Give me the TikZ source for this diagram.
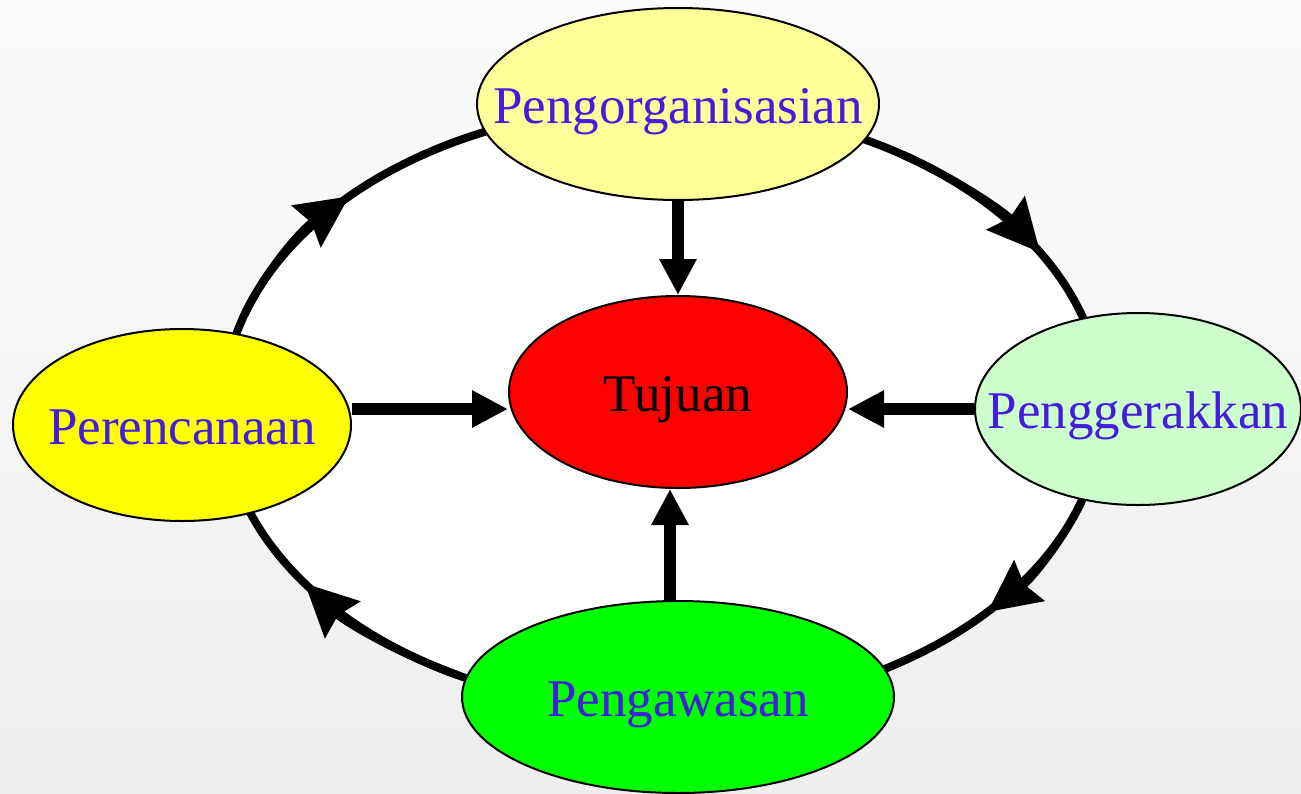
\documentclass[tikz,border=0pt]{standalone}
\usepackage{fontspec}
\setmainfont{Liberation Serif}
\usetikzlibrary{shapes.geometric,arrows.meta}
\definecolor{txtblue}{RGB}{67,28,222}
\definecolor{paleyellow}{RGB}{255,255,153}
\definecolor{palegreen}{RGB}{204,255,204}
\definecolor{brightgreen}{RGB}{0,255,0}
\definecolor{pureyellow}{RGB}{255,255,0}
\newcommand\ctext[1]{\makebox[0pt]{\raisebox{-0.36em}[0pt][0pt]{#1}}}
\tikzset{
  stage/.style={ellipse, draw=black, line width=1pt, inner sep=0pt,
    minimum height=96pt, font=\fontsize{26.5}{30}\selectfont, text=txtblue},
  cyclearc/.style={line width=4pt, draw=black},
  cyclehead/.style={cyclearc, -{Stealth[length=26pt, width=25pt, inset=3pt]}},
  bigarrow/.style={line width=6pt, -{Triangle[length=18pt, width=17.5pt]}}
}
\begin{document}
\begin{tikzpicture}[x=0.5pt, y=-0.5pt]
\useasboundingbox (0,0) rectangle (1301,793);
\shade[top color=gray!3, bottom color=gray!13] (0,0) rectangle (1301,793);
% cycle
\draw[cyclearc, fill=white] (663,408) ellipse [x radius=440, y radius=302];
\draw[cyclehead] (663,408) ++(198:440 and 302) arc[start angle=198, end angle=224.5, x radius=440, y radius=302];
\draw[cyclehead] (663,408) ++(303:440 and 302) arc[start angle=303, end angle=329, x radius=440, y radius=302];
\draw[cyclehead] (663,408) ++(18:440 and 302) arc[start angle=18, end angle=42.5, x radius=440, y radius=302];
\draw[cyclehead] (663,408) ++(118:440 and 302) arc[start angle=118, end angle=144.5, x radius=440, y radius=302];
% nodes
\node[stage, fill=paleyellow, minimum width=201pt] (org) at (678,104) {\ctext{Pengorganisasian}};
\node[stage, fill=red, minimum width=169pt, text=black] (tuj) at (678,392) {\ctext{Tujuan}};
\node[stage, fill=pureyellow, minimum width=169pt] (per) at (182,425) {\ctext{Perencanaan}};
\node[stage, fill=palegreen, minimum width=163pt] (pgk) at (1138,409) {\ctext{Penggerakkan}};
\node[stage, fill=brightgreen, minimum width=216pt] (paw) at (678,697) {\ctext{Pengawasan}};
% arrows to goal
\coordinate (hl) at (0,409);
\draw[bigarrow] (org.south) -- (tuj.north);
\draw[bigarrow] ([xshift=-4pt]paw.north) -- ([xshift=-4pt]tuj.south);
\draw[bigarrow] (per.east |- hl) -- (tuj.west |- hl);
\draw[bigarrow] (pgk.west |- hl) -- (tuj.east |- hl);
\end{tikzpicture}
\end{document}
